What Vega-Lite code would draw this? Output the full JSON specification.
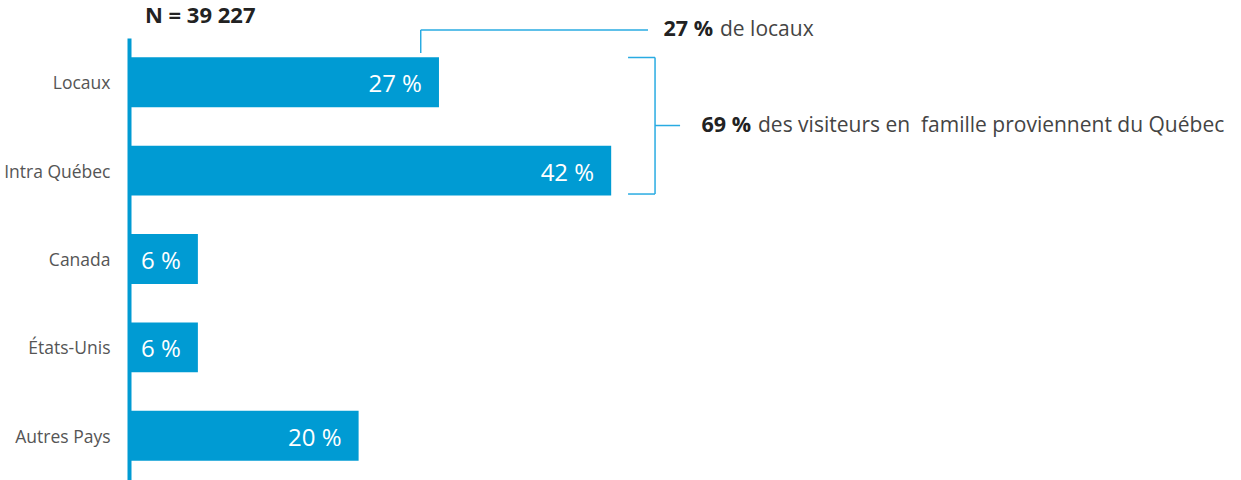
{
  "$schema": "https://vega.github.io/schema/vega-lite/v6.json",
  "width": 1112,
  "height": 442,
  "autosize": {"type": "none"},
  "padding": {"left": 129, "top": 38, "right": 0, "bottom": 0},
  "background": "white",
  "config": {"view": {"stroke": null}, "font": "Open Sans"},
  "datasets": {
    "bars": [
      {"cat": "Locaux", "value": 27, "label": "27 %"},
      {"cat": "Intra Québec", "value": 42, "label": "42 %"},
      {"cat": "Canada", "value": 6, "label": "6 %"},
      {"cat": "États-Unis", "value": 6, "label": "6 %"},
      {"cat": "Autres Pays", "value": 20, "label": "20 %"}
    ],
    "segments": [
      {"x1": 25.41, "x2": 25.41, "y1": 0.17, "y2": -0.0905},
      {"x1": 25.41, "x2": 45.21, "y1": -0.0905, "y2": -0.0905},
      {"x1": 43.47, "x2": 45.82, "y1": 0.2206, "y2": 0.2206},
      {"x1": 45.82, "x2": 45.82, "y1": 0.2206, "y2": 1.765},
      {"x1": 43.47, "x2": 45.82, "y1": 1.765, "y2": 1.765},
      {"x1": 45.82, "x2": 48.0, "y1": 0.99, "y2": 0.99}
    ],
    "boldNotes": [
      {"text": "27 %", "x": 50.87, "y": -0.095},
      {"text": "69 %", "x": 54.18, "y": 0.99}
    ],
    "plainNotes": [
      {"text": "de locaux", "x": 51.48, "y": -0.095},
      {"text": "des visiteurs en \u00a0famille proviennent du Québec", "x": 54.79, "y": 0.99}
    ],
    "title": [
      {"text": "N = 39 227", "x": 1.39, "y": -0.245}
    ]
  },
  "layer": [
    {
      "data": {"name": "bars"},
      "layer": [
        {
          "mark": {"type": "bar", "color": "#009bd3"},
          "encoding": {
            "y": {
              "field": "cat", "type": "nominal", "sort": null,
              "scale": {"paddingInner": 0.435, "paddingOuter": 0.2175},
              "axis": {
                "title": null, "ticks": false, "domainColor": "#009bd3", "domainWidth": 4,
                "labelFont": "Open Sans", "labelFontSize": 17.5, "labelColor": "#555555",
                "labelPadding": 19, "labelOffset": 2, "zindex": 1
              }
            },
            "x": {
              "field": "value", "type": "quantitative",
              "scale": {"domain": [0, 96.86], "nice": false, "zero": true},
              "axis": null
            }
          }
        },
        {
          "mark": {"type": "text", "align": "right", "baseline": "middle", "dx": -17, "dy": 3, "color": "white", "fontSize": 24, "font": "Open Sans"},
          "encoding": {
            "y": {"field": "cat", "type": "nominal", "sort": null},
            "x": {"field": "value", "type": "quantitative"},
            "text": {"field": "label"}
          }
        }
      ]
    },
    {
      "layer": [
        {
          "data": {"name": "segments"},
          "mark": {"type": "rule", "color": "#29abe2", "strokeWidth": 1.5},
          "encoding": {
            "x": {"field": "x1", "type": "quantitative"},
            "x2": {"field": "x2"},
            "y": {"field": "y1", "type": "quantitative", "scale": {"domain": [0, 5], "reverse": true, "nice": false, "zero": false}, "axis": null},
            "y2": {"field": "y2"}
          }
        },
        {
          "data": {"name": "boldNotes"},
          "mark": {"type": "text", "align": "right", "baseline": "middle", "fontWeight": "bold", "fontSize": 21.5, "color": "#222222", "font": "Open Sans"},
          "encoding": {
            "x": {"field": "x", "type": "quantitative"},
            "y": {"field": "y", "type": "quantitative"},
            "text": {"field": "text"}
          }
        },
        {
          "data": {"name": "plainNotes"},
          "mark": {"type": "text", "align": "left", "baseline": "middle", "fontSize": 21, "color": "#444444", "font": "Open Sans"},
          "encoding": {
            "x": {"field": "x", "type": "quantitative"},
            "y": {"field": "y", "type": "quantitative"},
            "text": {"field": "text"}
          }
        },
        {
          "data": {"name": "title"},
          "mark": {"type": "text", "align": "left", "baseline": "middle", "fontWeight": "bold", "fontSize": 22, "color": "#222222", "font": "Open Sans"},
          "encoding": {
            "x": {"field": "x", "type": "quantitative"},
            "y": {"field": "y", "type": "quantitative"},
            "text": {"field": "text"}
          }
        }
      ]
    }
  ],
  "resolve": {"scale": {"y": "independent"}}
}
